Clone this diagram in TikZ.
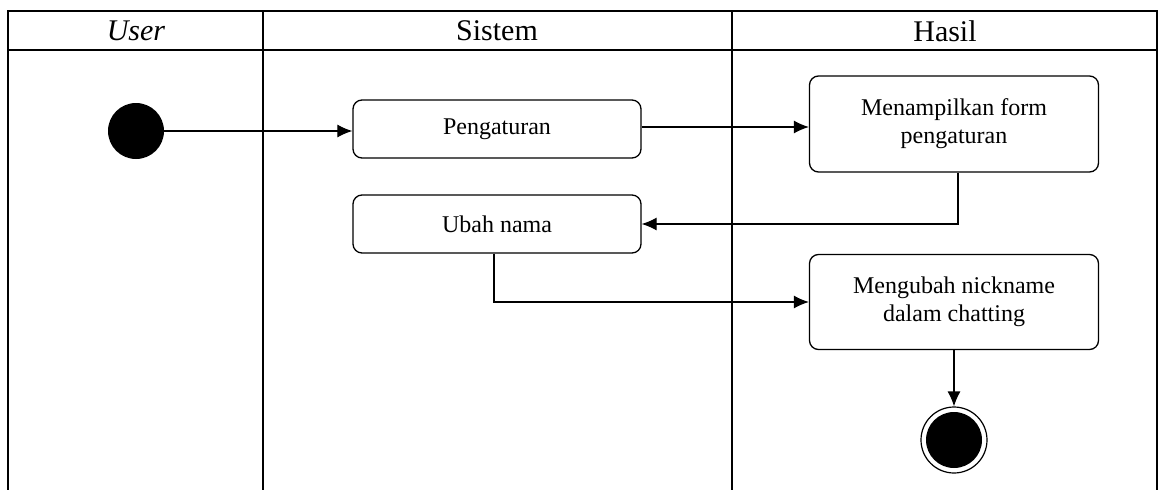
\documentclass[tikz,border=0pt]{standalone}
\usepackage{fontspec}
\setmainfont{Liberation Serif}
\usetikzlibrary{arrows.meta}

\begin{document}
\begin{tikzpicture}[x=1pt,y=-1pt]
    \tikzstyle{lane}=[line width=1.6pt]
    \tikzstyle{marrs}=[line width=1.2pt,-{Latex[length=15pt,width=13pt]}]
    \tikzstyle{abox}=[draw, line width=1.3pt, rounded corners=9pt, align=center, font=\fontsize{24}{28}\selectfont]
    \tikzstyle{head}=[font=\fontsize{30}{34}\selectfont]
    \def\boxw{288pt}

    \useasboundingbox (0,0) rectangle (1165,490);

    % swimlanes
    \draw[lane] (8,490) -- (8,11) -- (1157,11) -- (1157,490);
    \draw[lane] (8,50) -- (1157,50);
    \draw[lane] (263,11) -- (263,490);
    \draw[lane] (732,11) -- (732,490);

    \node[head] (huser) at (136,31) {\itshape User};
    \node[head] (hsistem) at (497,31) {Sistem};
    \node[head] (hhasil) at (945,31) {Hasil};

    % activities
    \node[circle, fill=black, minimum size=56pt, inner sep=0pt] (start) at (136,131) {};
    \node[abox, minimum width=\boxw, minimum height=58pt] (atur) at (497,129) {Pengaturan};
    \node[abox, minimum width=\boxw, minimum height=58pt] (ubah) at (497,224) {Ubah nama};
    \node[abox, minimum width=289pt, minimum height=96pt] (form) at (954,124) {Menampilkan form\\pengaturan};
    \node[abox, minimum width=289pt, minimum height=95pt] (nick) at (954,302) {Mengubah nickname\\dalam chatting};
    \node[circle, draw, line width=1.2pt, minimum size=66pt, inner sep=0pt] (stop) at (954,440) {};
    \node[circle, fill=black, minimum size=56pt, inner sep=0pt] (stopin) at (stop) {};

    % flows
    \draw[marrs] (start) -- (start -| atur.west);
    \draw[marrs] (atur.east |- 0,127) -- (form.west |- 0,127);
    \draw[marrs] (form.south -| 958,0) |- (ubah.east);
    \draw[marrs] (ubah.south -| 494,0) |- (nick.west);
    \draw[marrs] (nick) -- (stop.north);
\end{tikzpicture}
\end{document}
